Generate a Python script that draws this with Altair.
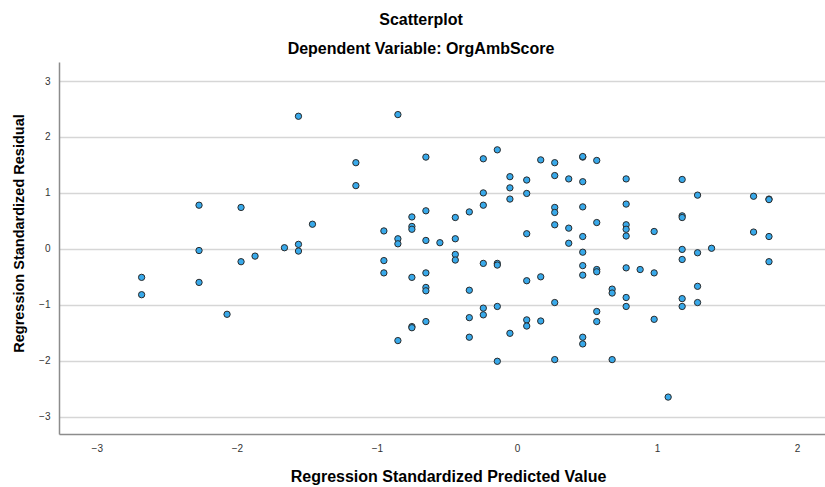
import altair as alt
import pandas as pd

pred = [-1.56, -2.27, -1.97, -1.46, -2.27, -1.66, -1.56, -1.56, -1.87, -1.97,
        -2.68, -2.68, -2.27, -2.07, -0.85, -1.15, -1.15, -0.65, -0.24, -0.14,
        -0.05, -0.05, -0.05, -0.24, -0.24, -0.34, -0.44, -0.65, -0.75, -0.75,
        -0.75, -0.95, -0.85, -0.85, -0.65, -0.55, -0.44, -0.44, -0.44, -0.24,
        -0.14, -0.14, -0.95, -0.95, -0.75, -0.65, -0.65, -0.65, -0.34, -0.24,
        -0.24, -0.14, -0.34, -0.75, -0.75, -0.65, -0.85, -0.34, -0.05, -0.14,
        0.07, 0.07, 0.07, 0.17, 0.27, 0.27, 0.37, 0.47, 0.47, 0.47,
        0.57, 0.78, 0.78, 0.27, 0.27, 0.47, 0.27, 0.37, 0.57, 0.47,
        0.37, 0.78, 0.78, 0.78, 0.98, 0.47, 0.47, 0.47, 0.57, 0.57,
        0.78, 0.88, 0.98, 0.07, 0.17, 0.68, 0.68, 0.78, 0.78, 0.27,
        0.57, 0.57, 0.07, 0.07, 0.17, 0.47, 0.47, 0.98, 0.27, 0.68,
        1.08, 1.18, 1.29, 1.18, 1.18, 1.18, 1.18, 1.29, 1.39, 1.29,
        1.18, 1.18, 1.29, 1.69, 1.80, 1.80, 1.69, 1.80, 1.80]

resid = [2.37, 0.78, 0.74, 0.44, -0.03, 0.02, 0.08, -0.04, -0.13, -0.23,
         -0.51, -0.82, -0.60, -1.17, 2.40, 1.54, 1.13, 1.64, 1.61, 1.77,
         1.29, 1.09, 0.89, 1.00, 0.78, 0.66, 0.56, 0.68, 0.57, 0.40,
         0.35, 0.32, 0.18, 0.09, 0.15, 0.11, 0.18, -0.10, -0.20, -0.26,
         -0.26, -0.29, -0.21, -0.43, -0.51, -0.43, -0.69, -0.75, -0.74, -1.06,
         -1.18, -1.03, -1.23, -1.39, -1.41, -1.30, -1.64, -1.58, -1.51, -2.01,
         1.23, 0.99, 0.27, 1.59, 1.54, 1.31, 1.25, 1.64, 1.65, 1.20,
         1.58, 1.25, 0.80, 0.74, 0.65, 0.75, 0.43, 0.37, 0.47, 0.22,
         0.10, 0.43, 0.35, 0.23, 0.31, -0.06, -0.30, -0.47, -0.37, -0.41,
         -0.34, -0.37, -0.43, -0.57, -0.50, -0.72, -0.79, -0.87, -1.03, -0.96,
         -1.12, -1.30, -1.27, -1.38, -1.29, -1.58, -1.70, -1.26, -1.98, -1.98,
         -2.65, 1.24, 0.96, 0.59, 0.56, -0.01, -0.19, -0.07, 0.01, -0.67,
         -0.89, -1.03, -0.96, 0.94, 0.89, 0.88, 0.30, 0.22, -0.23]

x_ticks = [-3, -2, -1, 0, 1, 2]
y_ticks = [-3, -2, -1, 0, 1, 2, 3]

df = pd.DataFrame({"pred": pred, "resid": resid})

FONT = "Liberation Sans"

chart = alt.Chart(df).mark_point(
    shape="circle", filled=True, fill="#38a9ea", stroke="#2a2a2a",
    strokeWidth=1, size=40, opacity=1
).encode(
    x=alt.X("pred:Q",
            scale=alt.Scale(domain=[-3.27, 2.2], nice=False, zero=False),
            axis=alt.Axis(title="Regression Standardized Predicted Value",
                          values=x_ticks, grid=False, ticks=False, tickSize=0,
                          labelPadding=9, titlePadding=15, titleFontSize=16,
                          titleX=389, format="d")),
    y=alt.Y("resid:Q",
            scale=alt.Scale(domain=[-3.31, 3.34], nice=False, zero=False),
            axis=alt.Axis(title="Regression Standardized Residual",
                          values=y_ticks, grid=True, ticks=False, tickSize=0,
                          labelPadding=9, titlePadding=12, titleFontSize=14.5,
                          titleY=171, format="d")),
).properties(
    width=766,
    height=372,
    title=alt.TitleParams(
        text="Scatterplot",
        subtitle="Dependent Variable: OrgAmbScore",
        anchor="middle", dx=-21, offset=5,
        font=FONT, fontSize=16, fontWeight="bold", color="#000000",
        subtitleFont=FONT, subtitleFontSize=16, subtitleFontWeight="bold",
        subtitleColor="#000000", subtitlePadding=13,
    ),
    autosize=alt.AutoSizeParams(type="none"),
    padding={"left": 59, "top": 62, "right": 0, "bottom": 53},
).configure_view(
    stroke=None
).configure_axis(
    labelFont=FONT, labelFontSize=10, labelColor="#333333",
    titleFont=FONT, titleFontWeight="bold", titleColor="#000000",
    domainColor="#8c8c8c", domainWidth=1.5,
    gridColor="#d6d6d6", gridWidth=1.3,
)

chart.save("out.html", embed_options={"renderer": "svg", "actions": False})
